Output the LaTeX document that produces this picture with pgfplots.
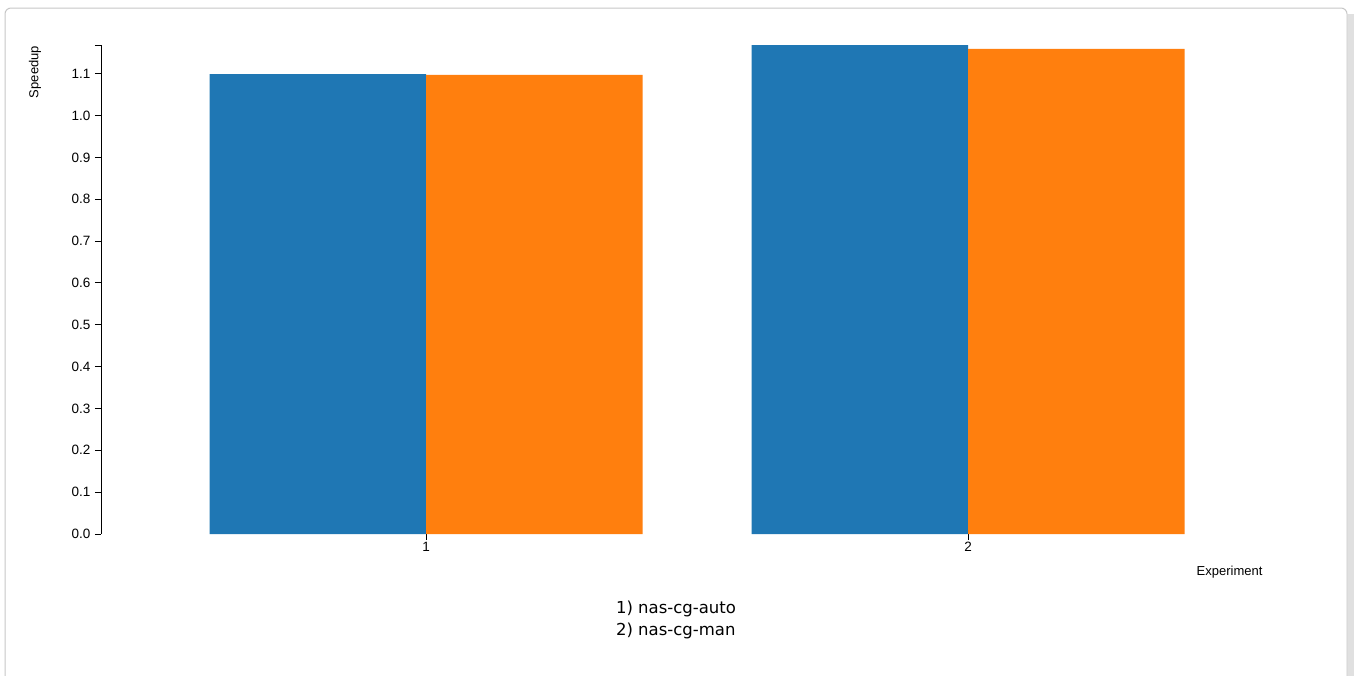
\documentclass[border=0pt]{standalone}
\usepackage{fontspec}
\setmainfont{Liberation Sans}
\newfontfamily\legfont{DejaVu Sans}
\usepackage{pgfplots}
\pgfplotsset{compat=1.18}
\definecolor{c1}{HTML}{1F77B4}
\definecolor{c2}{HTML}{FF7F0E}
\begin{document}
\begin{tikzpicture}[x=1pt,y=1pt]
\useasboundingbox (0,0) rectangle (1355,-675);
\fill[black!12] (1348,-14) rectangle (1354,-690);
\draw[black!22, line width=1pt, fill=white, rounded corners=6pt] (5,-8) rectangle (1347,-700);
\begin{axis}[
  at={(101pt,-534pt)}, anchor=south west,
  scale only axis, width=1192.4pt, height=488.8pt,
  xmin=0.4, xmax=2.6, ymin=0, ymax=1.168,
  axis y line*=left, axis x line*=bottom,
  x axis line style={draw=none},
  y axis line style={line width=1pt},
  tick align=outside, major tick length=6pt,
  every tick/.style={black, line width=1pt},
  xtick={1,2},
  ytick={0,0.1,0.2,0.3,0.4,0.5,0.6,0.7,0.8,0.9,1.0,1.1},
  extra y ticks={1.168}, extra y tick labels={},
  yticklabel style={/pgf/number format/fixed,/pgf/number format/fixed zerofill,/pgf/number format/precision=1, xshift=-1pt},
  /pgf/number format/assume math mode=true,
  tick label style={font=\fontsize{13.5}{15}\selectfont},
  xticklabel style={yshift=1pt},
  clip=false,
]
\addplot[ybar, bar width=216.5pt, bar shift=-108.25pt, fill=c1, draw=none] coordinates {(1,1.099) (2,1.168)};
\addplot[ybar, bar width=216.5pt, bar shift=108.25pt, fill=c2, draw=none] coordinates {(1,1.097) (2,1.159)};
\end{axis}
\node[rotate=90, font=\fontsize{13}{15}\selectfont] at (35,-72) {Speedup};
\node[anchor=east, font=\fontsize{13}{15}\selectfont] at (1266,-572) {Experiment};
\node[align=left, font=\legfont\fontsize{16.5}{22}\selectfont] at (676,-620) {1) nas-cg-auto\\2) nas-cg-man};
\end{tikzpicture}
\end{document}
